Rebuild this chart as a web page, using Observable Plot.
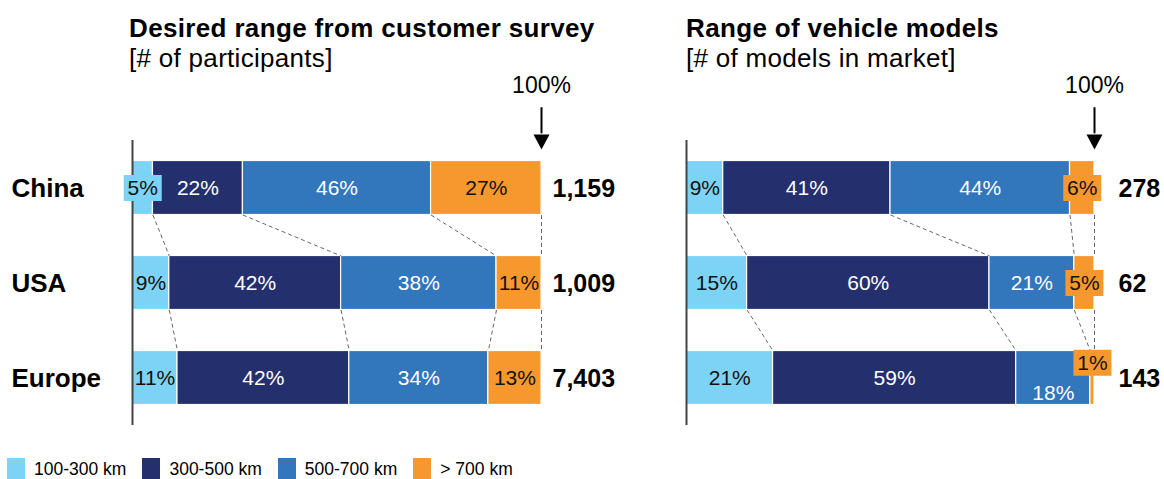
<!DOCTYPE html>
<html><head><meta charset="utf-8">
<script src="https://cdn.jsdelivr.net/npm/d3@7"></script>
<script src="https://cdn.jsdelivr.net/npm/@observablehq/plot@0.6"></script>
<style>
body{margin:0;background:#fff;font-family:"Liberation Sans",Arial,sans-serif;color:#000}
#root{position:relative;width:1164px;height:479px;overflow:hidden}
.panel{position:absolute;top:60px;width:582px}
.title{position:absolute;top:16px;font-weight:bold;font-size:26px;line-height:25px;white-space:nowrap;letter-spacing:0.35px}
.sub{position:absolute;top:46px;font-size:26px;line-height:25px;white-space:nowrap;letter-spacing:0.3px}
.legend{position:absolute;top:458px;left:7px;display:flex;align-items:center}
.legend .item{display:flex;align-items:center;margin-right:16px}
.legend .sw{width:18px;height:22px;margin-right:9px}
.legend .lb{font-size:17.5px}
</style></head>
<body><div id="root"></div>
<script>
const rows = ["China", "USA", "Europe"];
const bands = ["100-300 km", "300-500 km", "500-700 km", "> 700 km"];
const bandColors = ["#7dd3f6", "#24306d", "#3276bc", "#f7982f"];
const surveyShares = [[5, 22, 46, 27], [9, 42, 38, 11], [11, 42, 34, 13]];
const surveyTotals = [1159, 1009, 7403];
const modelShares = [[9, 41, 44, 6], [15, 60, 21, 5], [21, 59, 18, 1]];
const modelTotals = [278, 62, 143];

const pad = 0.2158;
const boxSymbol = {draw(ctx) { ctx.moveTo(-19, -13); ctx.lineTo(19, -13); ctx.lineTo(19, 13); ctx.lineTo(-19, 13); ctx.closePath(); }};
const triSymbol = {draw(ctx) { ctx.moveTo(-8, -7.5); ctx.lineTo(8, -7.5); ctx.lineTo(0, 7.5); ctx.closePath(); }};

function panel(shares, totals, opt) {
  const segs = [], cums = [];
  shares.forEach((row, i) => {
    const sum = d3.sum(row);
    let acc = 0;
    const cum = [0];
    row.forEach((v, k) => {
      const x1 = acc / sum * 100; acc += v; const x2 = acc / sum * 100;
      segs.push({row: i, k, v, x1, x2, mid: (x1 + x2) / 2});
      cum.push(x2);
    });
    cums.push(cum);
  });
  segs.forEach((s, j) => {
    const next = segs[j + 1];
    s.shift = s.v < 3 ? -0.16 : (next && next.row === s.row && next.v < 3 ? 0.16 : 0);
    s.boxed = s.v < 8;
  });
  const links = [];
  for (let i = 0; i < cums.length - 1; i++)
    for (let k = 1; k < cums[i].length; k++)
      links.push({x1: cums[i][k], x2: cums[i + 1][k], y1: i + 1 - pad, y2: i + 1 + pad});
  const ly = d => d.row + 0.5 + d.shift;
  const marks = [
    Plot.rect(segs, {x1: "x1", x2: "x2", y1: d => d.row + pad, y2: d => d.row + 1 - pad, fill: d => bands[d.k], stroke: "white", strokeWidth: 1.2}),
    Plot.link(links, {x1: "x1", x2: "x2", y1: "y1", y2: "y2", stroke: "#666", strokeWidth: 1, strokeDasharray: "4,3"}),
    Plot.ruleX([0], {stroke: "#444", strokeWidth: 2}),
    Plot.dot(segs.filter(d => d.boxed), {x: "mid", y: ly, fill: d => bands[d.k], symbol: boxSymbol}),
    Plot.text(segs.filter(d => d.k === 0 || d.k === 3), {x: "mid", y: ly, text: d => d.v + "%", fill: "#111", fontSize: 21}),
    Plot.text(segs.filter(d => d.k === 1 || d.k === 2), {x: "mid", y: ly, text: d => d.v + "%", fill: "white", fontSize: 21}),
    Plot.text(totals, {x: () => 100, y: (d, i) => i + 0.5, text: d => d3.format(",")(d), dx: opt.totalDx, dy: 1, textAnchor: "start", fontWeight: "bold", fontSize: 25, fill: "#000"}),
    Plot.ruleX([100], {y1: () => -0.345, y2: () => -0.07, stroke: "#000", strokeWidth: 2}),
    Plot.dot([100], {x: d => d, y: () => 0.016, symbol: triSymbol, fill: "#000"}),
    Plot.text(["100%"], {x: () => 100, y: () => -0.58, text: d => d, fontSize: 23, fill: "#000"})
  ];
  if (opt.labels) marks.push(Plot.text(rows, {x: () => 0, y: (d, i) => i + 0.5, text: d => d, dx: opt.labelDx, dy: 1, textAnchor: "start", fontWeight: "bold", fontSize: 26, fill: "#000"}));
  return Plot.plot({
    width: 582, height: 380, marginTop: 80, marginBottom: 15,
    marginLeft: opt.marginLeft, marginRight: opt.marginRight,
    x: {domain: [0, 100], axis: null},
    y: {domain: [0, 3], range: [80, 365], axis: null},
    color: {domain: bands, range: bandColors},
    style: {background: "transparent", fontFamily: "'Liberation Sans', Arial, sans-serif", overflow: "visible"},
    marks
  });
}

const root = document.getElementById("root");
function addPanel(left, chart, title, sub, textLeft) {
  const p = document.createElement("div");
  p.className = "panel"; p.style.left = left + "px";
  p.appendChild(chart);
  root.appendChild(p);
  const t = document.createElement("div"); t.className = "title"; t.style.left = textLeft + "px"; t.textContent = title; root.appendChild(t);
  const s = document.createElement("div"); s.className = "sub"; s.style.left = textLeft + "px"; s.textContent = sub; root.appendChild(s);
}
addPanel(0, panel(surveyShares, surveyTotals, {labels: true, labelDx: -121, marginLeft: 132, marginRight: 41, totalDx: 11}),
  "Desired range from customer survey", "[# of participants]", 129);
addPanel(582, panel(modelShares, modelTotals, {labels: false, marginLeft: 104, marginRight: 70, totalDx: 24}),
  "Range of vehicle models", "[# of models in market]", 686);

const lg = document.createElement("div"); lg.className = "legend";
bands.forEach((b, i) => {
  const it = document.createElement("div"); it.className = "item";
  const sw = document.createElement("div"); sw.className = "sw"; sw.style.background = bandColors[i];
  const lb = document.createElement("div"); lb.className = "lb"; lb.textContent = b;
  it.appendChild(sw); it.appendChild(lb); lg.appendChild(it);
});
root.appendChild(lg);
</script></body></html>
